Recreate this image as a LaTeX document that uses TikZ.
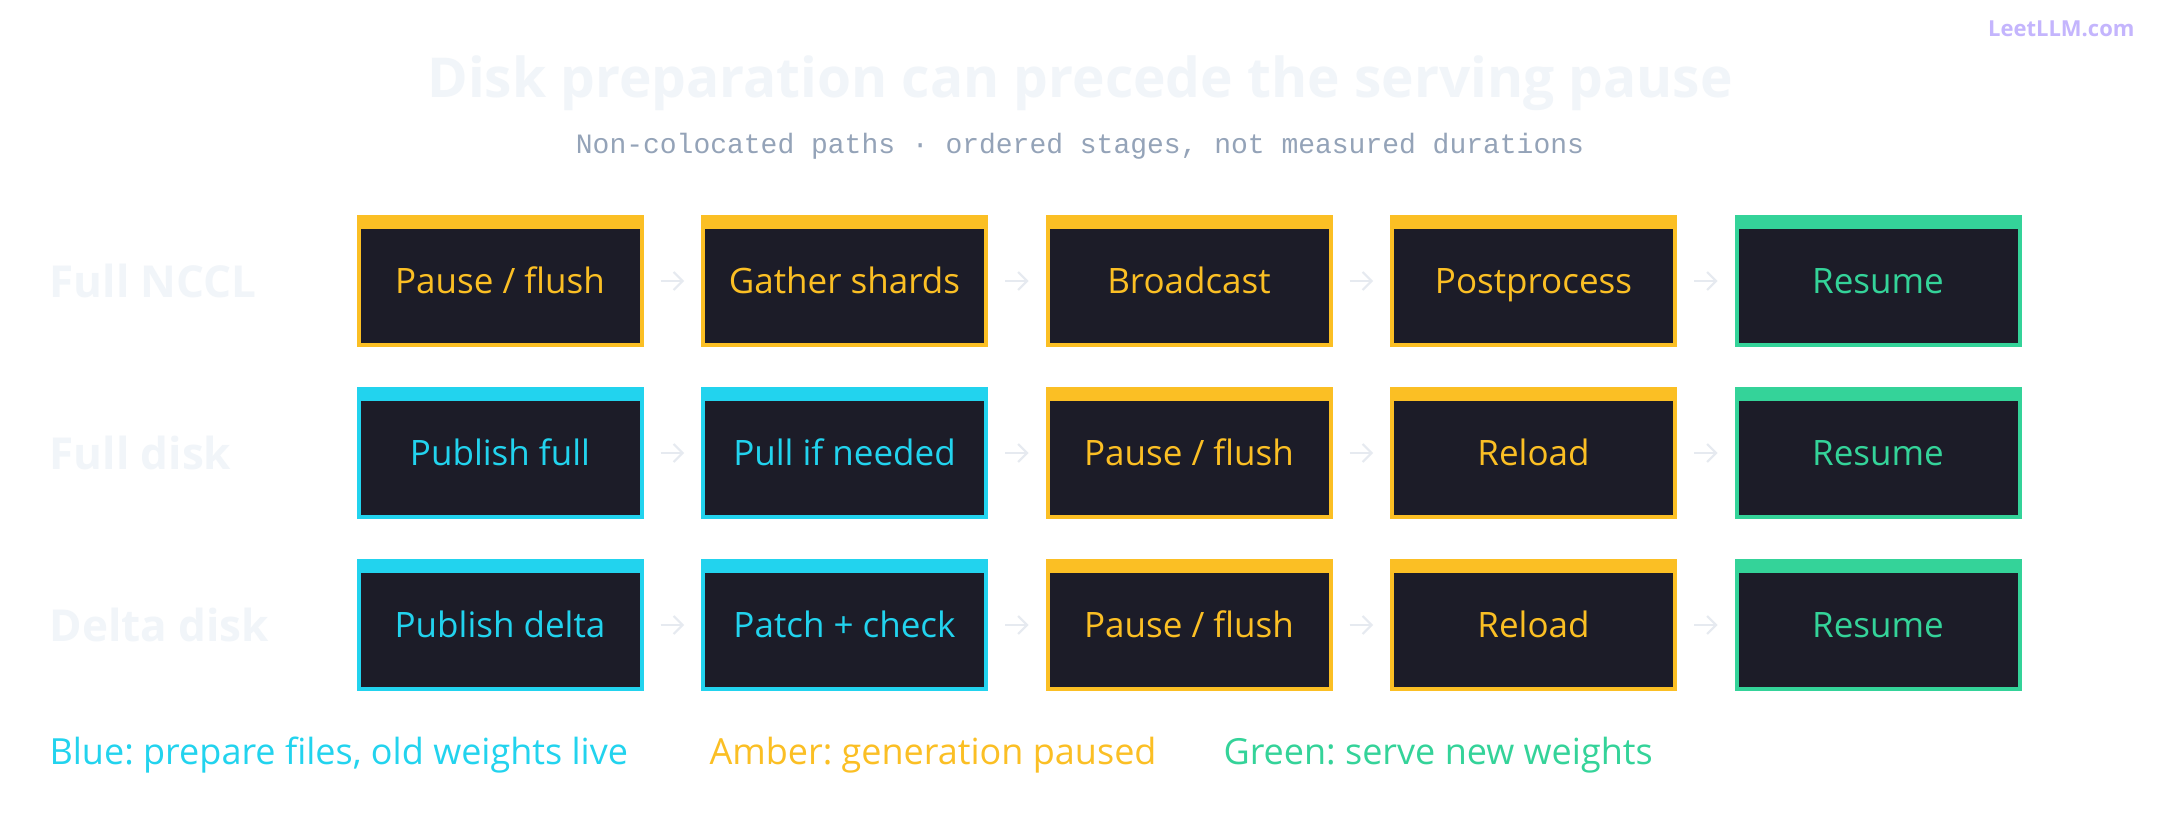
\documentclass[tikz,border=0pt]{standalone}
\usepackage{fontspec}
\setmainfont{Open Sans}
\setmonofont{Liberation Mono}
\usetikzlibrary{arrows.meta}
\definecolor{amb}{HTML}{FBBF24}
\definecolor{cya}{HTML}{22D3EE}
\definecolor{grn}{HTML}{34D399}
\definecolor{boxbg}{HTML}{1C1C28}
\definecolor{faint}{HTML}{F1F5F9}
\definecolor{sub}{HTML}{94A3B8}
\definecolor{logo}{HTML}{C4B5FD}
\definecolor{arr}{HTML}{E6EAF0}
\begin{document}
\frenchspacing
\begin{tikzpicture}[x=1pt,y=-1pt,
  stage/.style={draw=#1,line width=4pt,fill=boxbg,minimum width=283pt,minimum height=128pt,
    inner sep=0pt,text=#1,font=\fontsize{35}{38}\selectfont,text height=25pt,text depth=0pt,
    path picture={\fill[#1] (path picture bounding box.north west) rectangle ([yshift=-12pt]path picture bounding box.north east);}},
  rowlab/.style={anchor=west,text=faint,font=\fontsize{44}{48}\selectfont\bfseries},
  leg/.style={anchor=west,text=#1,font=\fontsize{36}{40}\selectfont},
  link/.style={draw=arr,line width=2pt,-{Straight Barb[length=9pt,width=18pt]}, shorten <=17pt, shorten >=17pt}]
\useasboundingbox (0,0) rectangle (2160,824);
\fill[white] (0,0) rectangle (2160,824);
\node[text=faint,font=\fontsize{55}{60}\selectfont\bfseries] (title) at (1080,83) {Disk preparation can precede the serving pause};
\node[text=sub,font=\fontsize{28}{30}\selectfont\ttfamily] (subt) at (1080,146) {Non-colocated paths · ordered stages, not measured durations};
\node[anchor=east,text=logo,font=\fontsize{22}{24}\selectfont\bfseries] (logo) at (2138,29) {LeetLLM.com};

\def\cA{500}\def\cB{844.5}\def\cC{1189}\def\cD{1533.5}\def\cE{1878}
\def\rA{281}\def\rB{453}\def\rC{625}
\node[rowlab] (l1) at (46,\rA) {Full NCCL};
\node[rowlab] (l2) at (46,\rB) {Full disk};
\node[rowlab] (l3) at (46,\rC) {Delta disk};

\node[stage=amb] (a1) at (\cA,\rA) {Pause / flush};
\node[stage=amb] (a2) at (\cB,\rA) {Gather shards};
\node[stage=amb] (a3) at (\cC,\rA) {Broadcast};
\node[stage=amb] (a4) at (\cD,\rA) {Postprocess};
\node[stage=grn] (a5) at (\cE,\rA) {Resume};

\node[stage=cya] (b1) at (\cA,\rB) {Publish full};
\node[stage=cya] (b2) at (\cB,\rB) {Pull if needed};
\node[stage=amb] (b3) at (\cC,\rB) {Pause / flush};
\node[stage=amb] (b4) at (\cD,\rB) {Reload};
\node[stage=grn] (b5) at (\cE,\rB) {Resume};

\node[stage=cya] (c1) at (\cA,\rC) {Publish delta};
\node[stage=cya] (c2) at (\cB,\rC) {Patch + check};
\node[stage=amb] (c3) at (\cC,\rC) {Pause / flush};
\node[stage=amb] (c4) at (\cD,\rC) {Reload};
\node[stage=grn] (c5) at (\cE,\rC) {Resume};

\foreach \r in {a,b,c}{
  \draw[link] (\r1) -- (\r2);
  \draw[link] (\r2) -- (\r3);
  \draw[link] (\r3) -- (\r4);
  \draw[link] (\r4) -- (\r5);
}
\node[leg=cya] (g1) at (46,755) {Blue: prepare files, old weights live};
\node[leg=amb] (g2) at (706,755) {Amber: generation paused};
\node[leg=grn] (g3) at (1220,755) {Green: serve new weights};
\end{tikzpicture}
\end{document}
